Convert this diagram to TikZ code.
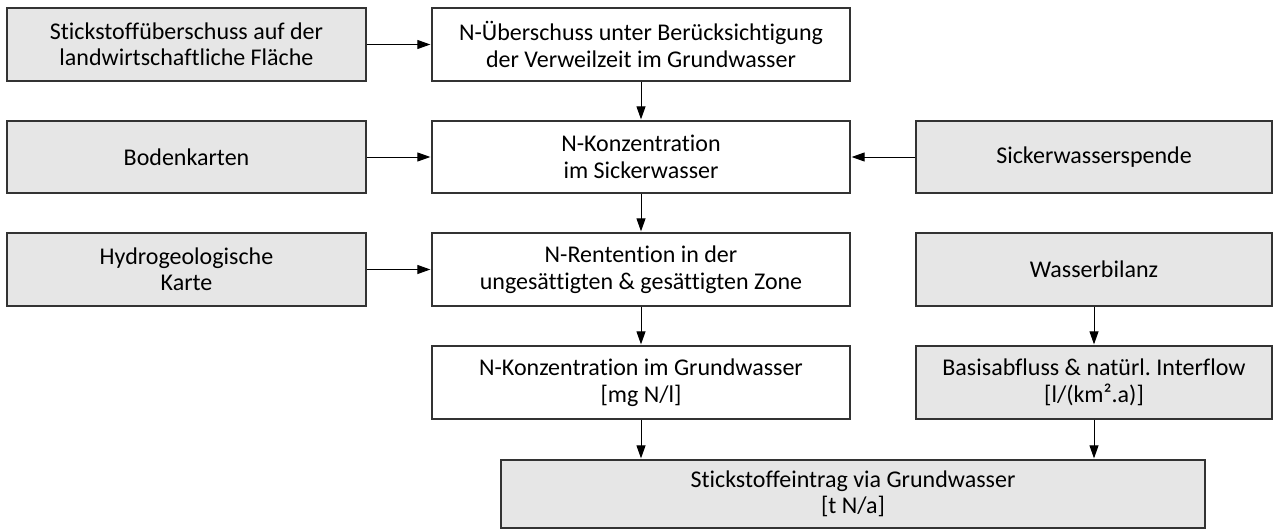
\documentclass[tikz,border=0pt]{standalone}
\usepackage{fontspec}
\setmainfont{Carlito}[Ligatures=NoCommon]
\frenchspacing
\usetikzlibrary{arrows.meta}
\definecolor{boxgray}{HTML}{E6E6E6}
\definecolor{boxline}{HTML}{333333}
\tikzset{
  base/.style={draw=boxline, line width=1.3pt, inner sep=0pt, align=center,
    font=\fontsize{24}{26.5}\selectfont, text=black},
  inbox/.style={base, fill=boxgray},
  calcbox/.style={base, fill=white},
  flow/.style={-{Triangle[length=13pt,width=9pt]}, line width=1pt, draw=black, shorten >=1pt},
}
\begin{document}
\begin{tikzpicture}[x=1pt,y=-1pt]
\useasboundingbox (0,0) rectangle (1274,530);
% left column
\node[inbox, minimum width=359pt, minimum height=73pt] (l1) at (186.5,44.5) {Stickstoffüberschuss auf der\\landwirtschaftliche Fläche};
\node[inbox, minimum width=359pt, minimum height=72pt] (l2) at (186.5,157) {Bodenkarten};
\node[inbox, minimum width=359pt, minimum height=73pt] (l3) at (186.5,269.5) {Hydrogeologische\\Karte};
% center column
\node[calcbox, minimum width=418pt, minimum height=73pt] (c1) at (641,44.5) {N-Überschuss unter Berücksichtigung\\der Verweilzeit im Grundwasser};
\node[calcbox, minimum width=418pt, minimum height=72pt] (c2) at (641,157) {N-Konzentration\\im Sickerwasser};
\node[calcbox, minimum width=418pt, minimum height=73pt] (c3) at (641,269.5) {N-Rentention in der\\ungesättigten \& gesättigten Zone};
\node[calcbox, minimum width=418pt, minimum height=73pt] (c4) at (641,382.5) {N-Konzentration im Grundwasser\\{[mg N/l]}};
% right column
\node[inbox, minimum width=356pt, minimum height=72pt] (r2) at (1094,157) {Sickerwasserspende};
\node[inbox, minimum width=356pt, minimum height=73pt] (r3) at (1094,269.5) {Wasserbilanz};
\node[inbox, minimum width=356pt, minimum height=73pt] (r4) at (1094,382.5) {Basisabfluss \& natürl. Interflow\\{[l/(km².a)]}};
% bottom
\node[inbox, minimum width=704pt, minimum height=68pt] (b) at (853,494) {Stickstoffeintrag via Grundwasser\\{[t N/a]}};
% connectors
\draw[flow] (l1.east) -- (c1.west);
\draw[flow] (l2.east) -- (c2.west);
\draw[flow] (l3.east) -- (c3.west);
\draw[flow] (r2.west) -- (c2.east);
\draw[flow] (c1.south) -- (c2.north);
\draw[flow] (c2.south) -- (c3.north);
\draw[flow] (c3.south) -- (c4.north);
\draw[flow] (r3.south) -- (r4.north);
\draw[flow] (c4.south) -- (c4.south |- b.north);
\draw[flow] (r4.south) -- (r4.south |- b.north);
\end{tikzpicture}
\end{document}
